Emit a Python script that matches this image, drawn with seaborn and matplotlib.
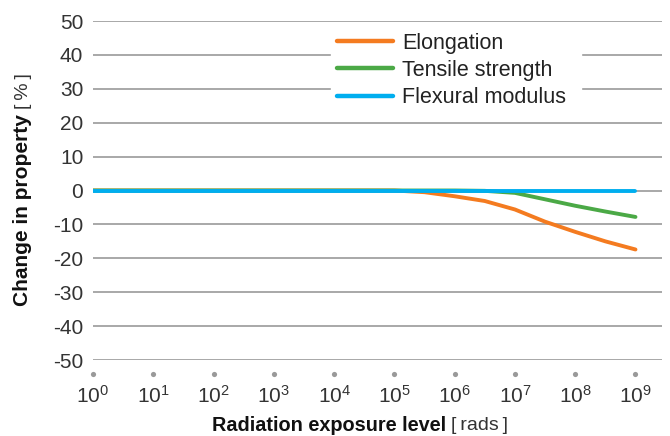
import matplotlib
matplotlib.use('Agg')
import matplotlib.pyplot as plt
import matplotlib.transforms as mtransforms
import seaborn as sns
import pandas as pd

# --- data (x = exponent of 10, rads) ---
exponents = [0, 1, 2, 3, 4, 5, 5.5, 6, 6.5, 7, 7.5, 8, 8.5, 9]
elongation = [0, 0, 0, 0, 0, 0, -0.5, -1.7, -3.1, -5.6, -9.2, -12.2, -15.0, -17.4]
tensile = [0, 0, 0, 0, 0, 0, 0, 0, -0.1, -0.7, -2.6, -4.5, -6.2, -7.8]
flexural = [0, 0, 0, 0, 0, 0, 0, 0, 0, 0, 0, 0, 0, 0]
series_names = ['Elongation', 'Tensile strength', 'Flexural modulus']
series_colors = ['#F47B20', '#4BA946', '#00AEEF']
x_ticks = list(range(10))
y_ticks = list(range(-50, 51, 10))

df = pd.DataFrame({'exp': exponents, 'Elongation': elongation,
                   'Tensile strength': tensile, 'Flexural modulus': flexural})
long_df = df.melt(id_vars='exp', var_name='Property', value_name='Change')

sns.set_style('white')
plt.rcParams['font.family'] = ['Liberation Sans', 'DejaVu Sans']
plt.rcParams['mathtext.fontset'] = 'custom'
plt.rcParams['mathtext.rm'] = 'Liberation Sans'

W, H = 670, 436
fig = plt.figure(figsize=(6.7, 4.36), dpi=100)
ax = fig.add_axes([93 / W, 1 - 360 / H, 569 / W, 339 / H])

sns.lineplot(data=long_df, x='exp', y='Change', hue='Property',
             hue_order=series_names, palette=series_colors,
             linewidth=2.8, ax=ax, legend=True)

ax.set_xlim(0, 9.44)
ax.set_ylim(-50, 50)
ax.set_yticks(y_ticks)
ax.set_yticklabels([str(v) for v in y_ticks])
ax.set_xticks(x_ticks)
ax.set_xticklabels([f'$\\mathregular{{10^{{{n}}}}}$' for n in x_ticks])

ax.grid(axis='y', color='#999999', linewidth=1.2)
ax.grid(axis='x', visible=False)
ax.set_axisbelow(True)
for s in ax.spines.values():
    s.set_visible(False)

ax.tick_params(axis='y', length=0, pad=7, labelsize=15, labelcolor='#333333')
ax.tick_params(axis='x', length=0, pad=18, labelsize=15, labelcolor='#333333')

# grey dots under the axis at each decade
trans = mtransforms.blended_transform_factory(ax.transData, ax.transAxes)
ax.scatter(x_ticks, [-0.041] * len(x_ticks), s=14, color='#999999',
           linewidths=0, transform=trans, clip_on=False, zorder=3)

ax.set_xlabel('')
ax.set_ylabel('')

leg = ax.legend(loc='upper left', bbox_to_anchor=(0.418, 0.0, 0.44, 0.985),
                mode='expand', frameon=True, fontsize=15.5, handlelength=2.6,
                handletextpad=0.4, labelspacing=0.3, borderpad=0.3,
                borderaxespad=0)
leg.get_frame().set_facecolor('white')
leg.get_frame().set_edgecolor('white')
leg.get_frame().set_alpha(1)
for line in leg.get_lines():
    line.set_linewidth(3.2)
for txt in leg.get_texts():
    txt.set_color('#222222')

fig.text(212 / W, 1 - 425 / H, 'Radiation exposure level', ha='left',
         va='center', fontsize=14.3, color='#111111', fontweight='bold')
fig.text(451 / W, 1 - 425 / H, '[\u2009rads\u2009]', ha='left', va='center',
         fontsize=14, color='#333333')
fig.text(23 / W, 1 - 306 / H, 'Change in property', rotation=90,
         ha='center', va='bottom', fontsize=15, color='#111111', fontweight='bold')
fig.text(23 / W, 1 - 109 / H, '[\u2009%\u2009]', rotation=90, ha='center',
         va='bottom', fontsize=14, color='#333333')

fig.savefig('out.png', dpi=100)
